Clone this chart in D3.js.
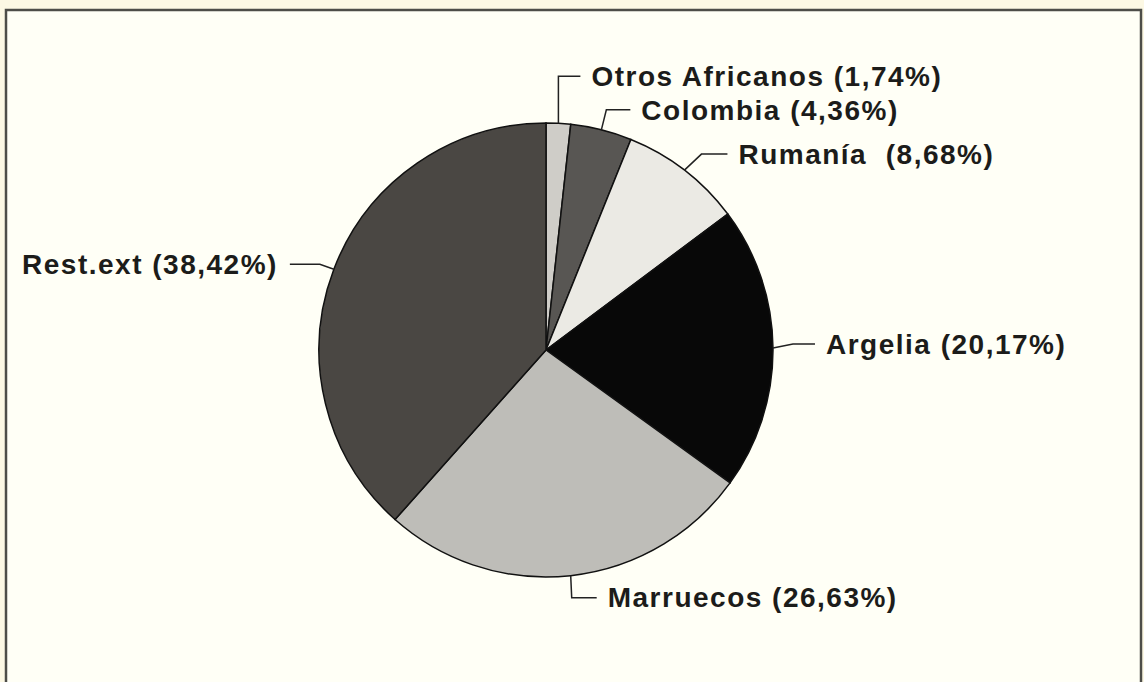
<!DOCTYPE html>
<html>
<head>
<meta charset="utf-8">
<script src="https://cdn.jsdelivr.net/npm/d3@7"></script>
<style>
  body { margin: 0; background: #fcf8e4; }
  svg { display: block; }
</style>
</head>
<body>
<div id="piechart"></div>
<script>
// data
const categories = ["Otros Africanos", "Colombia", "Rumanía", "Argelia", "Marruecos", "Rest.ext"];
const values = [1.74, 4.36, 8.68, 20.17, 26.63, 38.42];
const labels = ["Otros Africanos (1,74%)", "Colombia (4,36%)", "Rumanía  (8,68%)",
                "Argelia (20,17%)", "Marruecos (26,63%)", "Rest.ext (38,42%)"];
const fills = ["#cfcdc8", "#585653", "#ebeae4", "#080808", "#bebdb8", "#4a4743"];

// leader line bends (relative to the slice mid point) and text anchor side
const leaders = [
    { bend: [0, -47], end: [22, -47], side: "start" },
    { bend: [5, -20], end: [29, -20], side: "start" },
    { bend: [17, -16], end: [43, -16], side: "start" },
    { bend: [20, -4], end: [42, -4], side: "start" },
    { bend: [1, 22], end: [26, 22], side: "start" },
    { bend: [-14, -5], end: [-44, -5], side: "end" }
];

function pieBreakdown() {
    const width = 1144;
    const height = 682;
    const radius = 227;
    const cx = 546, cy = 350;

    const svg = d3.select("#piechart")
        .append("svg")
        .attr("width", width)
        .attr("height", height);

    // paper + frame
    svg.append("rect")
        .attr("x", 6).attr("y", 10)
        .attr("width", 1135).attr("height", 690)
        .attr("fill", "#fffff6")
        .attr("stroke", "#4d4d48")
        .attr("stroke-width", 2.5);

    const g = svg.append("g")
        .attr("transform", "translate(" + cx + "," + cy + ")");

    const rows = categories.map((c, i) => ({ category: c, value: values[i], label: labels[i], fill: fills[i] }));

    const pie = d3.pie()
        .value(d => d.value)
        .sort(null);

    const arc = d3.arc()
        .innerRadius(0)
        .outerRadius(radius);

    const arcs = pie(rows);

    g.selectAll(".slice")
        .data(arcs)
        .enter().append("path")
        .attr("class", "slice")
        .attr("d", arc)
        .attr("fill", d => d.data.fill)
        .attr("stroke", "#111")
        .attr("stroke-width", 1.5);

    // leader lines from the middle of each slice's rim
    const rim = d => {
        const a = (d.startAngle + d.endAngle) / 2;
        return [radius * Math.sin(a), -radius * Math.cos(a)];
    };

    g.selectAll(".leader")
        .data(arcs)
        .enter().append("polyline")
        .attr("class", "leader")
        .attr("fill", "none")
        .attr("stroke", "#222")
        .attr("stroke-width", 1.5)
        .attr("points", (d, i) => {
            const p = rim(d), l = leaders[i];
            return [p, [p[0] + l.bend[0], p[1] + l.bend[1]], [p[0] + l.end[0], p[1] + l.end[1]]]
                .map(q => q.join(",")).join(" ");
        });

    g.selectAll(".label")
        .data(arcs)
        .enter().append("text")
        .attr("class", "label")
        .attr("x", (d, i) => rim(d)[0] + leaders[i].end[0] + (leaders[i].side === "start" ? 11 : -12))
        .attr("y", (d, i) => rim(d)[1] + leaders[i].end[1])
        .attr("dy", "0.35em")
        .attr("text-anchor", (d, i) => leaders[i].side)
        .style("font-family", "'Liberation Sans', Arial, sans-serif")
        .style("font-weight", "bold")
        .style("font-size", "28px")
        .style("letter-spacing", "1.5px")
        .style("white-space", "pre")
        .attr("fill", "#1c1c1a")
        .text(d => d.data.label);
}

pieBreakdown();
</script>
</body>
</html>
